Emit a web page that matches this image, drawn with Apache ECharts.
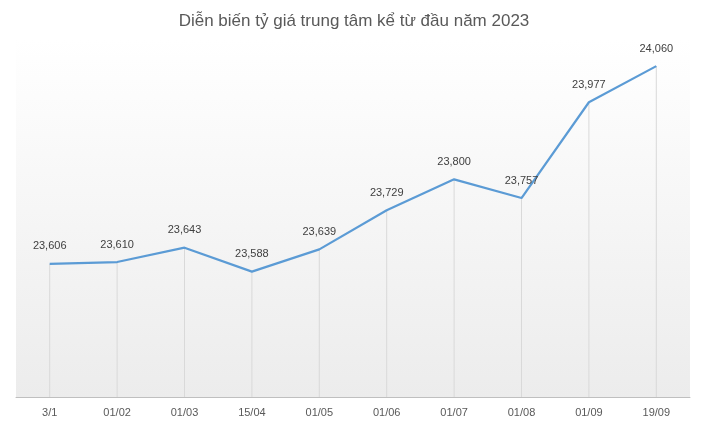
<!DOCTYPE html>
<html><head><meta charset="utf-8">
<script src="https://cdn.jsdelivr.net/npm/echarts@6/dist/echarts.min.js"></script>
<style>html,body{margin:0;padding:0;background:#fff}#c{width:708px;height:426px}</style>
</head><body><div id="c"></div>
<script>
const categories = ['3/1', '01/02', '01/03', '15/04', '01/05', '01/06', '01/07', '01/08', '01/09', '19/09'];
const rates = [23606, 23610, 23643, 23588, 23639, 23729, 23800, 23757, 23977, 24060];

const chart = echarts.init(document.getElementById('c'));
chart.setOption({
  title: {
    text: 'Diễn biến tỷ giá trung tâm kể từ đầu năm 2023',
    left: 'center', top: 8,
    textStyle: { fontFamily: 'Liberation Sans', fontSize: 17, fontWeight: 'normal', color: '#595959' },
  },
  grid: {
    left: 16, right: 18, top: 40, bottom: 29, show: true, borderWidth: 0,
    backgroundColor: new echarts.graphic.LinearGradient(0, 0, 0, 1, [
      { offset: 0, color: '#ffffff' }, { offset: 1, color: '#ececec' },
    ]),
  },
  xAxis: {
    type: 'category', data: categories,
    axisLine: { lineStyle: { color: '#bfbfbf' } },
    axisTick: { show: false },
    axisLabel: { color: '#595959', fontSize: 11, fontFamily: 'Liberation Sans', margin: 10 },
  },
  yAxis: { type: 'value', min: 23300, max: 24120, show: false, splitLine: { show: false } },
  series: [
    {
      type: 'bar', data: rates, barWidth: 1, silent: true,
      itemStyle: { color: '#d9d9d9' },
    },
    {
      type: 'line', data: rates, symbol: 'circle', symbolSize: 0, showSymbol: true,
      lineStyle: { color: '#5b9bd5', width: 2.2 },
      itemStyle: { color: '#5b9bd5' },
      label: {
        show: true, position: 'top', distance: 12, color: '#404040', fontSize: 11,
        fontFamily: 'Liberation Sans',
        formatter: (p) => p.value.toLocaleString('en-US'),
      },
    },
  ],
});
</script></body></html>
